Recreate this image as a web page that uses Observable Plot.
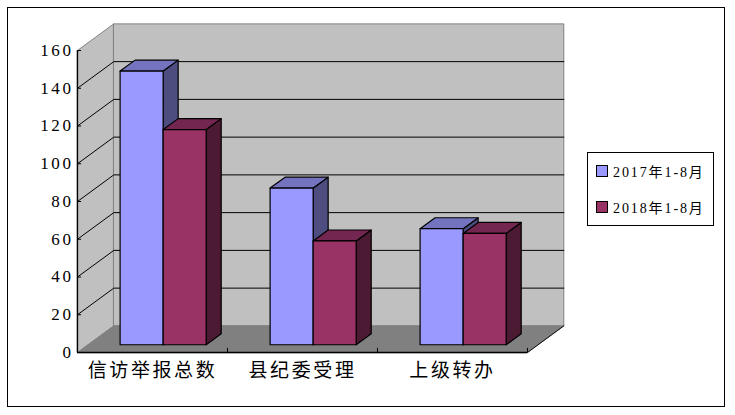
<!DOCTYPE html>
<html>
<head>
<meta charset="utf-8">
<script src="https://cdn.jsdelivr.net/npm/d3@7"></script>
<script src="https://cdn.jsdelivr.net/npm/@observablehq/plot@0.6"></script>
<style>
html,body{margin:0;padding:0;background:#fff;}
#wrap{position:relative;width:735px;height:415px;overflow:hidden;}
#wrap svg{position:absolute;left:0;top:0;background:transparent;}
#frame{position:absolute;left:7px;top:7px;width:716px;height:398px;border:1.5px solid #000;}
#legend{position:absolute;left:587px;top:152px;width:125px;height:72px;border:1.5px solid #000;background:#fff;font:14px "Liberation Serif","Noto Sans CJK SC",serif;color:#000;}
.item{position:absolute;left:8px;display:flex;align-items:center;letter-spacing:1.9px;white-space:nowrap;}
.sw{width:10px;height:10px;border:1px solid #000;margin-right:5px;flex:none;}
.ya text{font-family:"Liberation Serif",serif;letter-spacing:2.6px;}
.xa text{font-family:"Noto Sans CJK SC",sans-serif;letter-spacing:2.6px;}
</style>
</head>
<body>
<div id="wrap"><div id="frame"></div></div>
<script>
const categories = ["信访举报总数", "县纪委受理", "上级转办"];
const seriesNames = ["2017年1-8月", "2018年1-8月"];
const values2017 = [145, 83, 61.5];
const values2018 = [114, 55, 59];
const yTicks = [0, 20, 40, 60, 80, 100, 120, 140, 160];

const faceColors = [
  {front: "#9999ff", top: "#7373bf", side: "#4d4d80"},
  {front: "#993366", top: "#732650", side: "#4d1a33"}
];

// 3-D projection expressed in scale units (x: categories, y: values)
const wallDX = 0.242, wallDY = 14.1;   // depth of the chart box
const barDX = 0.1, barDY = 5.8;        // depth of one bar
const barInX = 0.071, barInY = 4.1;    // bar's front face offset from the front plane
const barW = 0.287;
const yMax = 160;

const P = (pts) => pts.map(([x, y]) => ({x, y}));
const poly = (pts, fill, stroke, strokeWidth = 1) =>
  Plot.line(P(pts), {x: "x", y: "y", fill, stroke, strokeWidth, curve: "linear-closed"});
const seg = (pts, stroke, strokeWidth = 1) =>
  Plot.line(P(pts), {x: "x", y: "y", stroke, strokeWidth});

const marks = [];
// walls and floor
marks.push(poly([[0, 0], [wallDX, wallDY], [wallDX, yMax + wallDY], [0, yMax]], "#c0c0c0", "#808080"));
marks.push(poly([[wallDX, wallDY], [3 + wallDX, wallDY], [3 + wallDX, yMax + wallDY], [wallDX, yMax + wallDY]], "#c0c0c0", "#808080"));
marks.push(poly([[0, 0], [wallDX, wallDY], [3 + wallDX, wallDY], [3, 0]], "#808080", "#808080"));
// gridlines
for (const t of yTicks.slice(1, -1)) {
  marks.push(seg([[0, t], [wallDX, t + wallDY], [3 + wallDX, t + wallDY]], "#000", 1));
}
marks.push(seg([[3, 0], [3 + wallDX, wallDY]], "#000", 0.9));
// bars
categories.forEach((c, i) => {
  [values2017[i], values2018[i]].forEach((v, s) => {
    const x0 = i + 0.5 - barW + barInX + s * barW, x1 = x0 + barW;
    const y0 = barInY, y1 = barInY + v;
    const col = faceColors[s];
    marks.push(poly([[x1, y0], [x1 + barDX, y0 + barDY], [x1 + barDX, y1 + barDY], [x1, y1]], col.side, "#000", 1.2));
    marks.push(poly([[x0, y1], [x1, y1], [x1 + barDX, y1 + barDY], [x0 + barDX, y1 + barDY]], col.top, "#000", 1.2));
    marks.push(poly([[x0, y0], [x1, y0], [x1, y1], [x0, y1]], col.front, "#000", 1.2));
  });
});
// axis lines and inward ticks
marks.push(Plot.ruleX([0], {y1: 0, y2: yMax, stroke: "#000", strokeWidth: 1.3}));
marks.push(Plot.ruleY([0], {x1: 0, x2: 3, stroke: "#000", strokeWidth: 1.3}));
marks.push(Plot.ruleY(yTicks, {x1: 0, x2: 0.027, stroke: "#000"}));
marks.push(Plot.ruleX([1, 2, 3], {y1: 0, y2: 2.2, stroke: "#000"}));
marks.push(Plot.axisY({ticks: yTicks, tickSize: 0, tickPadding: 4, label: null, fontSize: 17, className: "ya", anchor: "left"}));
marks.push(Plot.axisX({ticks: [0.5, 1.5, 2.5], tickFormat: (d) => categories[Math.floor(d)], tickSize: 0, tickPadding: 11, label: null, fontSize: 19, className: "xa", anchor: "bottom"}));

const chart = Plot.plot({
  width: 735, height: 415,
  marginLeft: 77, marginRight: 208, marginTop: 50, marginBottom: 63,
  x: {type: "linear", domain: [0, 3]},
  y: {type: "linear", domain: [0, yMax]},
  style: {background: "transparent", color: "#000"},
  marks
});
const wrap = document.getElementById("wrap");
wrap.appendChild(chart);

const legend = document.createElement("div");
legend.id = "legend";
seriesNames.forEach((n, i) => {
  const it = document.createElement("div");
  it.className = "item";
  it.style.top = (i === 0 ? 8 : 44) + "px";
  const sw = document.createElement("span");
  sw.className = "sw";
  sw.style.background = faceColors[i].front;
  it.appendChild(sw);
  it.appendChild(document.createTextNode(n));
  legend.appendChild(it);
});
wrap.appendChild(legend);
</script>
</body>
</html>
